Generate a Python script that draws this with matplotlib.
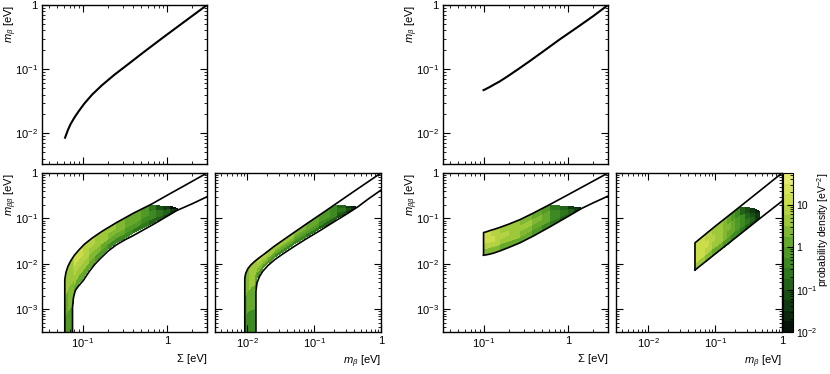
import numpy as np
import matplotlib
matplotlib.use("Agg")
import matplotlib.pyplot as plt
from matplotlib.colors import LinearSegmentedColormap, BoundaryNorm
from matplotlib.ticker import FuncFormatter

plt.rcParams["font.family"] = ["Liberation Sans", "DejaVu Sans"]
plt.rcParams["mathtext.fontset"] = "custom"
plt.rcParams["mathtext.rm"] = "Liberation Sans"
plt.rcParams["mathtext.it"] = "Liberation Sans:italic"
plt.rcParams["font.size"] = 8

# ---- axis ranges (eV) ----
sum_lim = (0.033, 3.0)
mb_lim = (0.0033, 1.0)
mbb_lim = (10 ** -3.5, 1.0)

# ---- top panels: m_beta vs Sigma ----
no_top_sum = [0.062, 0.064, 0.067, 0.072, 0.080, 0.090, 0.105, 0.13, 0.17, 0.24, 0.35, 0.55, 0.9, 1.5, 2.2, 3.0]
no_top_mb = [0.0085, 0.0095, 0.0112, 0.0138, 0.0175, 0.022, 0.029, 0.040, 0.056, 0.082, 0.12, 0.19, 0.31, 0.51, 0.74, 1.0]
io_top_sum = [0.100, 0.104, 0.110, 0.12, 0.135, 0.155, 0.19, 0.25, 0.35, 0.5, 0.8, 1.3, 2.0, 3.0]
io_top_mb = [0.047, 0.048, 0.050, 0.053, 0.058, 0.064, 0.076, 0.097, 0.132, 0.185, 0.29, 0.45, 0.67, 1.0]

# ---- NO, m_bb vs Sigma: envelope lines ----
no_sum_up_x = [0.0615, 0.0615, 0.0635, 0.067, 0.072, 0.080, 0.090, 0.105, 0.13, 0.17, 0.25, 0.4, 0.67, 1.0, 1.6, 3.0]
no_sum_up_y = [1e-4, 0.0045, 0.0065, 0.0088, 0.0115, 0.0155, 0.020, 0.027, 0.037, 0.052, 0.080, 0.13, 0.21, 0.32, 0.52, 1.0]
no_sum_lo_x = [0.076, 0.076, 0.078, 0.082, 0.09, 0.102, 0.12, 0.14, 0.162, 0.2, 0.25, 0.32, 0.4, 0.7, 1.32, 2.0, 3.0]
no_sum_lo_y = [1e-4, 0.0011, 0.0018, 0.0026, 0.0033, 0.0043, 0.0068, 0.0098, 0.013, 0.019, 0.026, 0.034, 0.042, 0.075, 0.15, 0.21, 0.30]
# NO, m_bb vs Sigma: density band
no_sum_x = [0.0615, 0.064, 0.067, 0.071, 0.0755, 0.0765, 0.079, 0.083, 0.090, 0.102, 0.12, 0.14,
            0.165, 0.2, 0.25, 0.32, 0.4, 0.5, 0.62, 0.75, 0.9, 1.1, 1.35]
no_sum_top = [0.0045, 0.0062, 0.0085, 0.011, 0.0128, 0.0132, 0.0143, 0.016, 0.0195, 0.025, 0.032, 0.040,
              0.049, 0.061, 0.078, 0.099, 0.125, 0.155, 0.19, 0.2, 0.18, 0.185, 0.16]
no_sum_bot = [1e-4, 1e-4, 1e-4, 1e-4, 1e-4, 0.0013, 0.0021, 0.0029, 0.0037, 0.0048, 0.0076, 0.011,
              0.0148, 0.021, 0.029, 0.038, 0.047, 0.058, 0.072, 0.087, 0.104, 0.125, 0.15]
no_sum_logd = [
    [-0.6, -0.3, 0.1, 0.5], [-0.5, -0.2, 0.2, 0.6], [-0.5, -0.1, 0.3, 0.7], [-0.5, -0.1, 0.3, 0.7],
    [-0.6, -0.1, 0.3, 0.7], [0.0, 0.4, 0.7, 0.9], [0.1, 0.5, 0.8, 1.0], [0.1, 0.5, 0.8, 1.0],
    [0.1, 0.5, 0.8, 1.0], [0.0, 0.5, 0.8, 0.9], [0.0, 0.4, 0.7, 0.8], [-0.1, 0.3, 0.6, 0.7],
    [-0.2, 0.2, 0.5, 0.6], [-0.3, 0.1, 0.4, 0.5], [-0.4, 0.0, 0.3, 0.3], [-0.5, -0.1, 0.2, 0.2],
    [-0.6, -0.2, 0.1, 0.0], [-0.7, -0.3, -0.1, -0.2], [-0.8, -0.5, -0.4, -0.7], [-1.0, -0.7, -0.7, -1.1],
    [-1.2, -1.0, -1.0, -1.4], [-1.5, -1.4, -1.5, -1.8]]

# ---- NO, m_bb vs m_beta ----
no_mb_up_x = [0.0092, 0.0092, 0.0095, 0.0102, 0.0112, 0.0128, 0.015, 0.019, 0.025, 0.035, 0.05, 0.08, 0.13, 0.22, 0.4, 0.65, 1.0]
no_mb_up_y = [1e-4, 0.0048, 0.0062, 0.0078, 0.0093, 0.0112, 0.0135, 0.0175, 0.024, 0.034, 0.049, 0.079, 0.128, 0.218, 0.4, 0.65, 1.0]
no_mb_lo_x = [0.0135, 0.0135, 0.014, 0.0152, 0.017, 0.0204, 0.026, 0.035, 0.05, 0.075, 0.12, 0.2, 0.32, 0.45, 0.65, 1.0]
no_mb_lo_y = [1e-4, 0.0025, 0.0038, 0.0052, 0.0068, 0.0092, 0.0125, 0.017, 0.024, 0.035, 0.053, 0.085, 0.13, 0.18, 0.27, 0.42]
no_mb_x = [0.0092, 0.0098, 0.0105, 0.0115, 0.0127, 0.0133, 0.0142, 0.0155, 0.0175, 0.0204, 0.026, 0.035,
           0.05, 0.075, 0.12, 0.17, 0.22, 0.3, 0.36, 0.42]
no_mb_top = [0.0048, 0.0068, 0.0081, 0.0095, 0.0108, 0.0116, 0.0126, 0.014, 0.016, 0.019, 0.025, 0.034,
             0.048, 0.072, 0.115, 0.16, 0.2, 0.19, 0.185, 0.175]
no_mb_bot = [1e-4, 1e-4, 1e-4, 1e-4, 1e-4, 0.0028, 0.005, 0.0064, 0.0083, 0.0103, 0.014, 0.019,
             0.027, 0.039, 0.059, 0.08, 0.1, 0.13, 0.155, 0.172]
no_mb_logd = [
    [-0.8, -0.5, -0.1, 0.3], [-0.7, -0.4, 0.0, 0.4], [-0.7, -0.3, 0.1, 0.5], [-0.7, -0.3, 0.1, 0.5],
    [-0.8, -0.3, 0.1, 0.5], [-0.2, 0.2, 0.5, 0.7], [-0.1, 0.3, 0.6, 0.8], [-0.1, 0.3, 0.6, 0.8],
    [-0.1, 0.3, 0.6, 0.8], [-0.2, 0.2, 0.5, 0.7], [-0.3, 0.1, 0.4, 0.6], [-0.4, 0.0, 0.3, 0.5],
    [-0.5, -0.1, 0.2, 0.3], [-0.6, -0.2, 0.1, 0.1], [-0.8, -0.4, -0.1, -0.1], [-0.9, -0.5, -0.3, -0.4],
    [-1.1, -0.8, -0.7, -1.0], [-1.3, -1.1, -1.1, -1.4], [-1.6, -1.5, -1.6, -1.9]]

# ---- IO, m_bb vs Sigma ----
io_sum_up_x = [0.1, 0.1, 0.105, 0.112, 0.122, 0.135, 0.158, 0.2, 0.27, 0.38, 0.62, 1.0, 1.6, 3.0]
io_sum_up_y = [0.0155, 0.049, 0.050, 0.052, 0.055, 0.058, 0.064, 0.075, 0.094, 0.128, 0.205, 0.33, 0.53, 1.0]
io_sum_lo_x = [0.1, 0.105, 0.112, 0.122, 0.135, 0.158, 0.2, 0.27, 0.39, 0.62, 1.0, 1.45, 2.0, 3.0]
io_sum_lo_y = [0.0155, 0.0157, 0.016, 0.0166, 0.0175, 0.0194, 0.023, 0.029, 0.041, 0.066, 0.11, 0.165, 0.22, 0.31]
io_sum_x = [0.1, 0.105, 0.112, 0.122, 0.135, 0.158, 0.2, 0.27, 0.38, 0.5, 0.62, 0.8, 1.0, 1.2, 1.45]
io_sum_top = [0.048, 0.049, 0.051, 0.054, 0.057, 0.063, 0.074, 0.093, 0.126, 0.165, 0.2, 0.19, 0.185, 0.18, 0.17]
io_sum_bot = [0.0163, 0.0165, 0.0168, 0.0174, 0.0184, 0.0204, 0.024, 0.030, 0.042, 0.055, 0.068, 0.088, 0.114, 0.14, 0.165]
io_sum_logd = [
    [0.4, 0.9, 1.1, 1.0], [0.4, 0.9, 1.1, 1.0], [0.4, 0.9, 1.1, 1.0], [0.4, 0.9, 1.0, 0.9],
    [0.3, 0.8, 0.9, 0.8], [0.2, 0.7, 0.8, 0.7], [0.1, 0.5, 0.6, 0.6], [0.0, 0.4, 0.5, 0.4],
    [-0.2, 0.2, 0.3, 0.2], [-0.4, 0.0, 0.1, -0.1], [-0.6, -0.3, -0.3, -0.6], [-0.8, -0.6, -0.6, -1.0],
    [-1.0, -0.9, -1.0, -1.3], [-1.3, -1.3, -1.4, -1.7]]

# ---- IO, m_bb vs m_beta ----
io_mb_up_x = [0.05, 0.05, 0.1, 0.2, 0.5, 1.0]
io_mb_up_y = [0.0073, 0.029, 0.067, 0.15, 0.44, 1.0]
io_mb_lo_x = [0.05, 0.1, 0.2, 0.5, 1.0]
io_mb_lo_y = [0.0073, 0.0165, 0.037, 0.108, 0.24]
io_mb_x = [0.05, 0.055, 0.062, 0.07, 0.08, 0.09, 0.1, 0.115, 0.13, 0.15, 0.175, 0.2, 0.235, 0.28, 0.33, 0.4, 0.47]
io_mb_top = [0.029, 0.0325, 0.038, 0.0445, 0.052, 0.06, 0.066, 0.078, 0.09, 0.106, 0.127, 0.148, 0.17, 0.175, 0.17, 0.16, 0.14]
io_mb_bot = [0.0075, 0.0084, 0.0096, 0.011, 0.0128, 0.0146, 0.0165, 0.0194, 0.0223, 0.026, 0.031, 0.037, 0.045, 0.055, 0.067, 0.084, 0.105]
io_mb_logd = [
    [0.5, 1.0, 1.2, 1.1], [0.5, 1.0, 1.2, 1.1], [0.5, 1.0, 1.1, 1.0], [0.4, 0.9, 1.0, 0.9],
    [0.3, 0.8, 0.9, 0.8], [0.2, 0.7, 0.8, 0.7], [0.1, 0.6, 0.7, 0.6], [0.0, 0.5, 0.6, 0.5],
    [-0.1, 0.3, 0.4, 0.3], [-0.2, 0.2, 0.3, 0.1], [-0.4, 0.0, 0.1, -0.1], [-0.5, -0.2, -0.2, -0.5],
    [-0.7, -0.4, -0.5, -0.8], [-0.9, -0.7, -0.8, -1.1], [-1.1, -1.0, -1.1, -1.4], [-1.4, -1.3, -1.4, -1.7]]

# colour scale
cmap = LinearSegmentedColormap.from_list(
    "dens", ["#07140a", "#123a10", "#236318", "#3d8a22", "#66a92c", "#9cc83a", "#cddd4c", "#e4ea6e"])
levels = 10 ** np.arange(-2, 1.8, 0.25)
norm = BoundaryNorm(levels, cmap.N)


def log_fmt(v, pos):
    e = int(round(np.log10(v)))
    if e == 0:
        return "1"
    if e == 1:
        return "10"
    return r"$10^{%d}$" % e


def style(ax, xlim, ylim):
    ax.set_xscale("log")
    ax.set_yscale("log")
    ax.set_xlim(*xlim)
    ax.set_ylim(*ylim)
    ax.tick_params(which="both", direction="in", top=True, right=True, labelsize=8)
    ax.tick_params(which="major", length=5, pad=3)
    ax.tick_params(which="minor", length=2.5)
    ax.xaxis.set_major_formatter(FuncFormatter(log_fmt))
    ax.yaxis.set_major_formatter(FuncFormatter(log_fmt))
    for s in ax.spines.values():
        s.set_linewidth(1.0)


def band(ax, x, bot, top, logd):
    x = np.array(x)
    bot = np.array(bot)
    top = np.array(top)
    frac = np.linspace(0, 1, 5)
    X = np.repeat(x[:, None], 5, axis=1)
    Y = bot[:, None] * (top / bot)[:, None] ** frac[None, :]
    C = 10 ** np.array(logd)
    return ax.pcolormesh(X, Y, C, cmap=cmap, norm=norm, shading="flat", edgecolors="none",
                         antialiased=False, rasterized=True)


W, H = 830, 374
fig = plt.figure(figsize=(8.3, 3.74), dpi=100)


def add_ax(x0, y0, x1, y1):
    return fig.add_axes([x0 / W, 1 - y1 / H, (x1 - x0) / W, (y1 - y0) / H])


def ylab(ax, text):
    ax.set_ylabel(text, loc="top")
    ax.yaxis.set_label_coords(-23 / 165, 1.0)


def xlab(ax, text):
    ax.set_xlabel(text, loc="right")
    ax.xaxis.set_label_coords(1.0, -22 / 159)


groups = [
    dict(x0=42, top=(no_top_sum, no_top_mb),
         s=(no_sum_up_x, no_sum_up_y, no_sum_lo_x, no_sum_lo_y, no_sum_x, no_sum_bot, no_sum_top, no_sum_logd),
         m=(no_mb_up_x, no_mb_up_y, no_mb_lo_x, no_mb_lo_y, no_mb_x, no_mb_bot, no_mb_top, no_mb_logd)),
    dict(x0=443, top=(io_top_sum, io_top_mb),
         s=(io_sum_up_x, io_sum_up_y, io_sum_lo_x, io_sum_lo_y, io_sum_x, io_sum_bot, io_sum_top, io_sum_logd),
         m=(io_mb_up_x, io_mb_up_y, io_mb_lo_x, io_mb_lo_y, io_mb_x, io_mb_bot, io_mb_top, io_mb_logd)),
]

mesh = None
for g in groups:
    x0 = g["x0"]
    ax_t = add_ax(x0, 5, x0 + 165, 164)
    ax_s = add_ax(x0, 173, x0 + 165, 332)
    ax_m = add_ax(x0 + 173, 173, x0 + 339, 332)

    style(ax_t, sum_lim, mb_lim)
    ax_t.plot(g["top"][0], g["top"][1], color="black", lw=1.5)
    ax_t.tick_params(labelbottom=False)
    ylab(ax_t, r"$m_\beta$ [eV]")

    for ax, d, xlim in [(ax_s, g["s"], sum_lim), (ax_m, g["m"], mb_lim)]:
        style(ax, xlim, mbb_lim)
        ux, uy, lx, ly, bx, bb, bt, bd = d
        mesh = band(ax, bx, bb, bt, bd)
        ax.plot(ux, uy, color="black", lw=1.2)
        ax.plot(lx, ly, color="black", lw=1.2)

    ylab(ax_s, r"$m_{\beta\beta}$ [eV]")
    xlab(ax_s, "Σ [eV]")
    xlab(ax_m, r"$m_\beta$ [eV]")
    ax_m.tick_params(labelleft=False)

cax = add_ax(783, 173, 793, 332)
cb = fig.colorbar(mesh, cax=cax, ticks=[0.01, 0.1, 1, 10])
cb.ax.set_yscale("log")
cb.ax.set_ylim(0.01, levels[-1])
cb.ax.yaxis.set_major_formatter(FuncFormatter(log_fmt))
cb.ax.tick_params(which="both", direction="in", labelsize=7.5, length=4, pad=2)
cb.ax.tick_params(which="minor", length=2)
cb.outline.set_linewidth(0.8)
cb.ax.set_ylabel(r"probability density [eV$^{-2}$]", loc="top", rotation=90, va="center", fontsize=7.5)
cb.ax.yaxis.set_label_coords(4.0, 1.0)

fig.savefig("out.png", dpi=100)
